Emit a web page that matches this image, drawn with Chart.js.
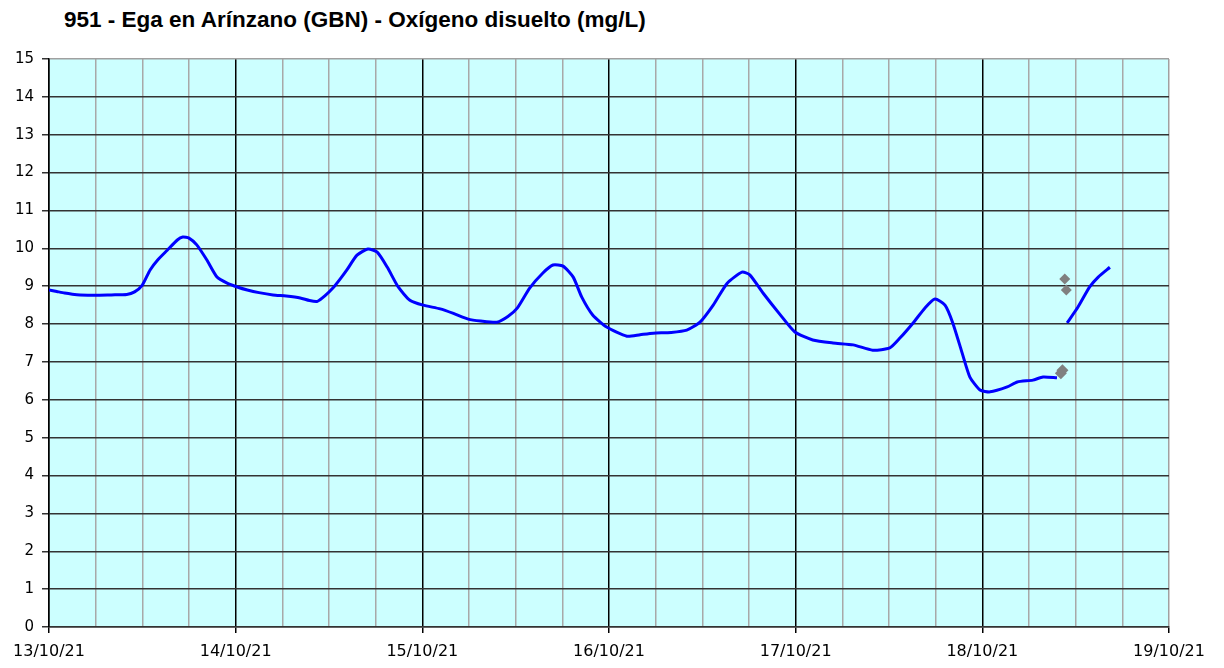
<!DOCTYPE html>
<html>
<head>
<meta charset="utf-8">
<script src="https://cdn.jsdelivr.net/npm/chart.js@4/dist/chart.umd.min.js"></script>
<style>
  html, body { margin: 0; padding: 0; background: #fff; }
  #wrap { position: relative; width: 1224px; height: 668px; }
  #title { position: absolute; left: 64px; top: 7px; font: bold 22.5px "Liberation Sans", Arial, sans-serif; color: #000; line-height: 26px; }
  canvas { position: absolute; left: 0; top: 0; }
</style>
</head>
<body>
<div id="wrap">
  <div id="title">951 - Ega en Arínzano (GBN) - Oxígeno disuelto (mg/L)</div>
  <canvas id="chart" width="1224" height="668"></canvas>
</div>
<script>
// hours since 13/10/21 00:00
var hours = [0, 1, 2, 3, 4, 6, 8, 10, 11, 12, 13, 14, 15.2, 16.5, 17.2, 18, 19, 20.3, 21.6, 22.9,
    24.2, 25.5, 27, 28.8, 30.5, 32.3, 33.5, 34.5, 35.5, 36.5, 37.4, 38.3, 39.6, 41, 42.2, 43.5, 44.9, 46.4,
    48.1, 50.3, 52, 53.9, 55.5, 57.6, 59, 60.2, 61.8, 63.5, 64.8, 66.1, 67.4, 68.5, 69.9, 71.7,
    74.3, 76, 77.7, 80, 82, 83.7, 85.4, 87.2, 89.1, 90.1, 91.8, 94, 95.9,
    98.2, 100.8, 103.4, 105.9, 108.1, 109.4, 111.1, 112.6, 113.9, 115.2, 116.2, 117.4, 118.4, 119.7,
    121, 123.2, 124.5, 126.5, 127.8, 129.6, 130.4, 130.9, 132.3, 133.8, 134.9, 136.4];
var oxygen = [8.9, 8.86, 8.82, 8.79, 8.77, 8.76, 8.77, 8.78, 8.85, 9.03, 9.43, 9.7, 9.95, 10.22, 10.3, 10.27, 10.09, 9.69, 9.24, 9.08,
    8.98, 8.9, 8.83, 8.77, 8.74, 8.69, 8.62, 8.6, 8.75, 8.95, 9.18, 9.43, 9.82, 9.98, 9.9, 9.5, 8.98, 8.63,
    8.5, 8.4, 8.28, 8.13, 8.08, 8.05, 8.2, 8.42, 8.95, 9.35, 9.56, 9.53, 9.24, 8.71, 8.24, 7.92,
    7.68, 7.72, 7.76, 7.78, 7.84, 8.05, 8.5, 9.08, 9.37, 9.3, 8.82, 8.25, 7.79,
    7.58, 7.5, 7.45, 7.31, 7.37, 7.63, 8.03, 8.42, 8.66, 8.5, 8.03, 7.24, 6.6, 6.26,
    6.21, 6.34, 6.47, 6.52, 6.6, 6.58, null, 8.03, 8.45, 8.98, 9.24, 9.5];

// loose readings drawn as grey diamonds
var sampleHours = [130.1, 130.3, 130.6, 130.8];
var sampleValues = [6.7, 6.78, 9.19, 8.9];
var sampleSizes = [6, 6, 5.5, 5.5];

var dayLabels = ['13/10/21', '14/10/21', '15/10/21', '16/10/21', '17/10/21', '18/10/21', '19/10/21'];

var linePoints = hours.map(function (h, i) { return { x: h, y: oxygen[i] }; });
var samplePoints = sampleHours.map(function (h, i) { return { x: h, y: sampleValues[i] }; });

var plotBg = {
    id: 'plotBg',
    beforeDraw: function (chart) {
        var a = chart.chartArea;
        var ctx = chart.ctx;
        ctx.save();
        ctx.fillStyle = '#ccffff';
        ctx.fillRect(a.left, a.top, a.right - a.left, a.bottom - a.top);
        ctx.restore();
    }
};

new Chart(document.getElementById('chart').getContext('2d'), {
    type: 'scatter',
    data: {
        datasets: [{
            data: linePoints,
            showLine: true,
            spanGaps: false,
            borderColor: '#0000ff',
            borderWidth: 3,
            borderJoinStyle: 'round',
            pointRadius: 0,
            fill: false,
            tension: 0.2
        }, {
            data: samplePoints,
            showLine: false,
            pointStyle: 'rectRot',
            pointRadius: sampleSizes,
            backgroundColor: '#808080',
            borderColor: '#808080',
            borderWidth: 0
        }]
    },
    options: {
        responsive: false,
        animation: false,
        events: [],
        layout: { padding: { top: 59, right: 55, left: 0, bottom: 0 } },
        plugins: {
            legend: { display: false },
            tooltip: { enabled: false },
            title: { display: false }
        },
        scales: {
            x: {
                type: 'linear',
                min: 0,
                max: 144,
                afterFit: function (s) { s.height = 41; },
                ticks: {
                    stepSize: 6,
                    autoSkip: false,
                    maxRotation: 0,
                    padding: 9,
                    color: '#000',
                    font: { family: 'DejaVu Sans', size: 16 },
                    callback: function (v) { return v % 24 === 0 ? dayLabels[v / 24] : ''; }
                },
                grid: {
                    drawTicks: true,
                    tickLength: 6,
                    lineWidth: 1.5,
                    color: function (c) {
                        var v = c.tick ? c.tick.value : 0;
                        if (v === 144) return '#a0a0a0';
                        return v % 24 === 0 ? '#000' : '#a8a8a8';
                    },
                    tickColor: function (c) {
                        var v = c.tick ? c.tick.value : 0;
                        return v % 24 === 0 ? '#000' : 'rgba(0,0,0,0)';
                    }
                },
                border: { display: true, color: '#333', width: 1.5 }
            },
            y: {
                min: 0,
                max: 15,
                afterFit: function (s) { s.width = 49; },
                ticks: {
                    stepSize: 1,
                    padding: 8,
                    color: '#000',
                    font: { family: 'DejaVu Sans', size: 15 }
                },
                grid: {
                    tickLength: 7,
                    lineWidth: 1.5,
                    color: function (c) {
                        var v = c.tick ? c.tick.value : 0;
                        return v === 15 ? '#a0a0a0' : '#333';
                    },
                    tickColor: '#333'
                },
                border: { display: true, color: '#000', width: 1.5 }
            }
        }
    },
    plugins: [plotBg]
});
</script>
</body>
</html>
